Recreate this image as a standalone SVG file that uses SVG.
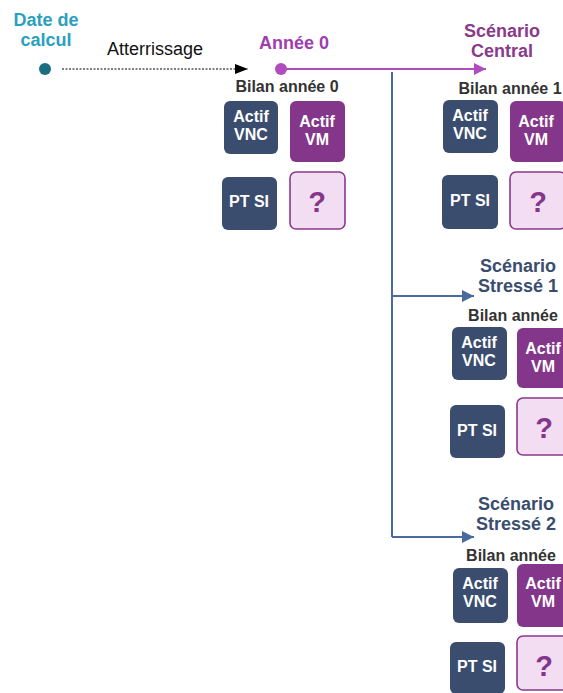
<svg xmlns="http://www.w3.org/2000/svg" width="563" height="693" viewBox="0 0 563 693">
<defs>
<style>
text{font-family:"Liberation Sans",Arial,sans-serif;}
.vnc{fill:#3a4d6e;}
.vm{fill:#84378a;}
.q{fill:#f2ddf2;stroke:#8a3a8a;stroke-width:1.6;}
.wt{fill:#fff;font-weight:bold;font-size:16px;text-anchor:middle;}
.qt{fill:#84378a;font-weight:bold;font-size:29px;text-anchor:middle;}
.bil{fill:#333;font-weight:bold;font-size:16px;text-anchor:middle;}
.ttl{font-weight:bold;font-size:18px;text-anchor:middle;}
</style>
<marker id="ab" markerWidth="13" markerHeight="10" refX="13" refY="5" orient="auto" markerUnits="userSpaceOnUse"><path d="M0,0L13,5L0,10z" fill="#000"/></marker>
<marker id="ap" markerWidth="12" markerHeight="12" refX="12" refY="6" orient="auto" markerUnits="userSpaceOnUse"><path d="M0,0L12,6L0,12z" fill="#b04cc0"/></marker>
<marker id="abl" markerWidth="12" markerHeight="12" refX="12" refY="6" orient="auto" markerUnits="userSpaceOnUse"><path d="M0,0L12,6L0,12z" fill="#4a6aa0"/></marker>
</defs>

<g id="connectors">
<line x1="62" y1="69" x2="248" y2="69" stroke="#000" stroke-width="1" stroke-dasharray="2,1.5" marker-end="url(#ab)"/>
<line x1="281" y1="69" x2="486" y2="69" stroke="#b04cc0" stroke-width="2" marker-end="url(#ap)"/>
<polyline points="392,72 392,537" fill="none" stroke="#4a6aa0" stroke-width="2"/>
<line x1="392" y1="296" x2="474" y2="296" stroke="#4a6aa0" stroke-width="2" marker-end="url(#abl)"/>
<line x1="392" y1="537" x2="474" y2="537" stroke="#4a6aa0" stroke-width="2" marker-end="url(#abl)"/>
</g>

<g id="date-calcul">
<text class="ttl" x="46" y="26" fill="#2aa0c0">Date de</text>
<text class="ttl" x="46" y="46" fill="#2aa0c0">calcul</text>
<circle cx="45" cy="69" r="6" fill="#1a6e80"/>
</g>

<g id="atterrissage">
<text x="155" y="55" font-size="18" text-anchor="middle" fill="#111">Atterrissage</text>
</g>

<g id="annee0">
<text class="ttl" x="294" y="49" fill="#a03cb0">Année 0</text>
<circle cx="281" cy="69" r="6" fill="#b04cc0"/>
</g>

<g id="bilan0">
<text class="bil" x="287" y="92">Bilan année 0</text>
<rect class="vnc" x="224" y="101" width="54" height="53" rx="6"/>
<text class="wt" x="251" y="122">Actif</text><text class="wt" x="251" y="140">VNC</text>
<rect class="vm" x="290" y="101" width="55" height="61" rx="6"/>
<text class="wt" x="317" y="127">Actif</text><text class="wt" x="317" y="145">VM</text>
<rect class="vnc" x="222" y="177" width="55" height="53" rx="6"/>
<text class="wt" x="249" y="207">PT SI</text>
<rect class="q" x="290" y="172" width="55" height="57" rx="6"/>
<text class="qt" x="317" y="212">?</text>
</g>

<g id="scenario-central">
<text class="ttl" x="502" y="37" fill="#8a3a8a">Scénario</text>
<text class="ttl" x="502" y="57" fill="#8a3a8a">Central</text>
<text class="bil" x="510" y="94">Bilan année 1</text>
<rect class="vnc" x="443" y="100" width="55" height="53" rx="6"/>
<text class="wt" x="470" y="121">Actif</text><text class="wt" x="470" y="139">VNC</text>
<rect class="vm" x="510" y="101" width="56" height="61" rx="6"/>
<text class="wt" x="536" y="127">Actif</text><text class="wt" x="536" y="145">VM</text>
<rect class="vnc" x="442" y="175" width="56" height="54" rx="6"/>
<text class="wt" x="470" y="206">PT SI</text>
<rect class="q" x="510" y="172" width="56" height="57" rx="6"/>
<text class="qt" x="538" y="212">?</text>
</g>

<g id="scenario-stresse1">
<text class="ttl" x="518" y="272" fill="#3a4d6e">Scénario</text>
<text class="ttl" x="518" y="292" fill="#3a4d6e">Stressé 1</text>
<text class="bil" x="513" y="321">Bilan année</text>
<rect class="vnc" x="452" y="327" width="55" height="53" rx="6"/>
<text class="wt" x="479" y="348">Actif</text><text class="wt" x="479" y="366">VNC</text>
<rect class="vm" x="517" y="328" width="56" height="60" rx="6"/>
<text class="wt" x="543" y="354">Actif</text><text class="wt" x="543" y="372">VM</text>
<rect class="vnc" x="450" y="405" width="55" height="53" rx="6"/>
<text class="wt" x="477" y="436">PT SI</text>
<rect class="q" x="517" y="398" width="56" height="57" rx="6"/>
<text class="qt" x="544" y="438">?</text>
</g>

<g id="scenario-stresse2">
<text class="ttl" x="516" y="510" fill="#3a4d6e">Scénario</text>
<text class="ttl" x="516" y="530" fill="#3a4d6e">Stressé 2</text>
<text class="bil" x="511" y="561">Bilan année</text>
<rect class="vnc" x="453" y="568" width="55" height="55" rx="6"/>
<text class="wt" x="480" y="589">Actif</text><text class="wt" x="480" y="607">VNC</text>
<rect class="vm" x="517" y="564" width="56" height="63" rx="6"/>
<text class="wt" x="543" y="589">Actif</text><text class="wt" x="543" y="607">VM</text>
<rect class="vnc" x="450" y="642" width="55" height="52" rx="6"/>
<text class="wt" x="477" y="672">PT SI</text>
<rect class="q" x="517" y="636" width="56" height="54" rx="6"/>
<text class="qt" x="544" y="676">?</text>
</g>
</svg>
